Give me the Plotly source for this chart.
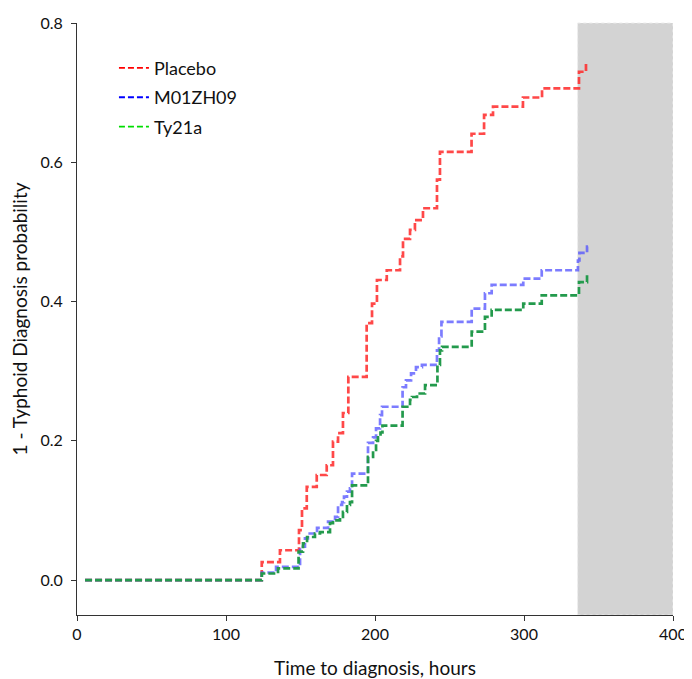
import plotly.graph_objects as go

# Kaplan-Meier style step data (hours, 1 - probability)
placebo_t = [5.4, 124.0, 136.2, 149.0, 151.0, 154.2, 160.9, 167.6, 171.8, 175.2, 178.5, 182.1,
             194.4, 198.0, 201.3, 207.9, 216.8, 218.8, 223.5, 226.8, 232.2, 241.6, 243.6,
             264.8, 273.2, 279.2, 299.3, 312.1, 336.9, 341.6, 343.0]
placebo_p = [0.0, 0.026, 0.043, 0.072, 0.103, 0.134, 0.151, 0.165, 0.199, 0.211, 0.240, 0.292,
             0.369, 0.397, 0.431, 0.445, 0.465, 0.490, 0.503, 0.517, 0.534, 0.575, 0.615,
             0.641, 0.668, 0.680, 0.693, 0.706, 0.730, 0.741, 0.741]

m01_t = [5.4, 124.0, 133.6, 149.7, 153.0, 155.0, 161.1, 168.5, 173.2, 175.2, 177.9, 179.2,
         181.2, 183.2, 184.6, 195.3, 198.7, 200.7, 203.4, 204.7, 218.5, 220.8, 224.2,
         227.5, 231.5, 241.6, 243.0, 244.6, 264.9, 273.8, 278.3, 299.5, 311.9, 336.2,
         337.2, 342.3, 343.0]
m01_p = [0.0, 0.011, 0.019, 0.048, 0.060, 0.067, 0.075, 0.084, 0.091, 0.108, 0.112, 0.120,
         0.127, 0.132, 0.153, 0.197, 0.205, 0.218, 0.237, 0.249, 0.277, 0.287, 0.297,
         0.306, 0.309, 0.330, 0.350, 0.371, 0.390, 0.412, 0.424, 0.433, 0.445, 0.459,
         0.470, 0.479, 0.479]

ty_t = [5.4, 124.0, 134.9, 148.7, 151.7, 154.4, 159.7, 163.1, 169.8, 171.8, 176.5, 178.5,
        181.2, 183.2, 184.6, 195.3, 198.7, 200.7, 202.0, 203.7, 205.0, 218.5, 223.5,
        224.8, 228.2, 233.6, 241.9, 243.6, 245.0, 264.9, 273.8, 278.3, 299.5, 311.9,
        336.9, 342.3, 343.0]
ty_p = [0.0, 0.0096, 0.017, 0.041, 0.053, 0.062, 0.067, 0.069, 0.082, 0.086, 0.091, 0.098,
        0.108, 0.112, 0.136, 0.177, 0.187, 0.200, 0.205, 0.212, 0.222, 0.249, 0.259,
        0.263, 0.268, 0.280, 0.309, 0.330, 0.335, 0.357, 0.378, 0.388, 0.397, 0.409,
        0.428, 0.440, 0.440]

series_names = ["Placebo", "M01ZH09", "Ty21a"]
line_colors = ["rgba(255,40,40,0.85)", "rgba(80,80,255,0.75)", "#239a4c"]
legend_colors = ["#ff0000", "#0000ff", "#00dd00"]
xs = [placebo_t, m01_t, ty_t]
ys = [placebo_p, m01_p, ty_p]

x_ticks = [0, 100, 200, 300, 400]
y_ticks = [0.0, 0.2, 0.4, 0.6, 0.8]
shade_start, shade_end = 336, 400

fig = go.Figure()
font = "Lato, Open Sans, sans-serif"

fig.add_shape(type="rect", xref="x", yref="paper", x0=shade_start, x1=shade_end, y0=0, y1=1,
              fillcolor="#d3d3d3", line=dict(color="#ececec", width=1, dash="dot"), layer="below")

for name, x, y, c in zip(series_names, xs, ys, line_colors):
    fig.add_trace(go.Scatter(x=x, y=y, mode="lines", line_shape="hv", showlegend=False,
                             line=dict(color=c, width=2.7, dash="7px,3px"), name=name))

for i, (name, c) in enumerate(zip(series_names, legend_colors)):
    fig.add_trace(go.Scatter(x=[None], y=[None], mode="lines", name=name, legendgroup=str(i),
                             line=dict(color=c, width=1.8, dash="6px,3px")))

# page body has an 8px default margin: figure is sized/offset to compensate
fig.update_layout(
    width=684, height=671,
    margin=dict(l=69, r=19, t=15, b=64),
    plot_bgcolor="white", paper_bgcolor="white",
    font=dict(family=font, size=16, color="#111"),
    showlegend=True,
    legend=dict(x=0.062, y=0.955, xanchor="left", yanchor="top", bgcolor="rgba(0,0,0,0)",
                font=dict(size=18, color="#111"), traceorder="grouped", tracegroupgap=3,
                itemwidth=30),
    xaxis=dict(range=[0, 400], tickvals=x_ticks, showgrid=False, zeroline=False, automargin=False,
               showline=True, linecolor="#333", linewidth=1, ticks="outside", ticklen=5,
               tickcolor="#333", tickfont=dict(size=16),
               title=dict(text="Time to diagnosis, hours", font=dict(size=19), standoff=19)),
    yaxis=dict(range=[-0.05, 0.8], tickvals=y_ticks, tickformat=".1f", showgrid=False,
               zeroline=False, showline=True, linecolor="#333", linewidth=1, ticks="outside",
               ticklen=5, tickcolor="#333", tickfont=dict(size=16), automargin=False,
               ticklabelstandoff=5,
               title=dict(text="1 - Typhoid Diagnosis probability", font=dict(size=19), standoff=14)),
)

fig.write_html("out.html")
